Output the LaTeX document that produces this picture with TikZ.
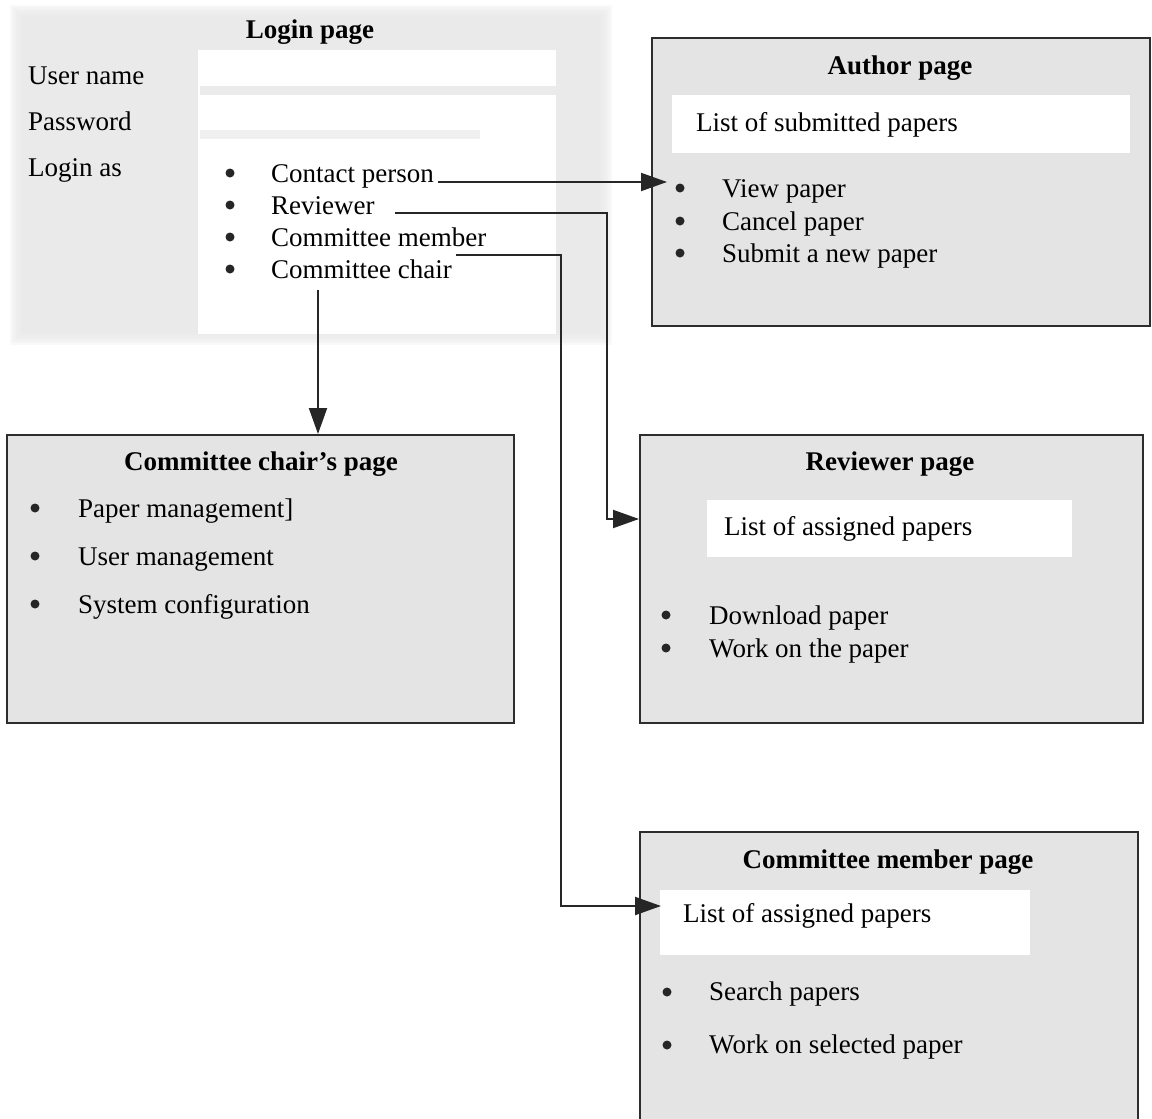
\documentclass[tikz,border=0pt]{standalone}
\usepackage{fontspec}
\setmainfont{Liberation Serif}
\usetikzlibrary{arrows.meta,calc}
\definecolor{pagefill}{RGB}{228,228,228}
\definecolor{loginfill}{RGB}{232,232,232}
\definecolor{fieldedge}{RGB}{230,230,230}
\definecolor{rulecol}{RGB}{45,45,45}
\begin{document}
\begin{tikzpicture}[x=1pt,y=-1pt,
  txt/.style={anchor=base west,inner sep=0pt,font=\fontsize{27}{32}\selectfont},
  ttl/.style={anchor=base,inner sep=0pt,font=\fontsize{27}{32}\selectfont\bfseries},
  bul/.style={circle,fill=black!85,draw=none,inner sep=0pt,minimum size=9pt},
  pagebox/.style={draw=rulecol,line width=2pt,fill=pagefill,inner sep=0pt},
  band/.style={fill=white,draw=none},
  arr/.style={draw=black!85,line width=2pt,-{Triangle[length=26pt,width=18pt]}}
]
\useasboundingbox (0,0) rectangle (1152,1119);

% ---------- login page (soft grey panel with white fields) ----------
\foreach \i in {0,...,6}
  \fill[loginfill,opacity=0.28] (10+2*\i,5+2*\i) rectangle (612-2*\i,345-2*\i);
\fill[white] (198,50) rectangle (556,334);
\fill[fieldedge,opacity=0.8] (200,86) rectangle (556,95);
\fill[fieldedge,opacity=0.6] (200,130) rectangle (480,139);

\node[ttl] (logintitle) at (310,38) {Login page};
\node[txt] (uname) at (28,84) {User name};
\node[txt] (pword) at (28,130) {Password};
\node[txt] (loginas) at (28,176) {Login as};

\node[bul] (b1) at (230,173) {};
\node[bul] (b2) at (230,205) {};
\node[bul] (b3) at (230,237) {};
\node[bul] (b4) at (230,269) {};
\node[txt] (cp) at (271,182) {Contact person};
\node[txt] (rv) at (271,214) {Reviewer};
\node[txt] (cm) at (271,246) {Committee member};
\node[txt] (cc) at (271,278) {Committee chair};

% ---------- author page ----------
\node[pagebox,minimum width=498pt,minimum height=288pt] (author) at (901,182) {};
\fill[band] (672,95) rectangle (1130,153);
\node[ttl] (authortitle) at (900,74) {Author page};
\node[txt] (authorlist) at (696,131) {List of submitted papers};
\node[bul] (ab1) at (680,188) {};
\node[bul] (ab2) at (680,221) {};
\node[bul] (ab3) at (680,253) {};
\node[txt] (a1) at (722,197) {View paper};
\node[txt] (a2) at (722,230) {Cancel paper};
\node[txt] (a3) at (722,262) {Submit a new paper};

% ---------- committee chair's page ----------
\node[pagebox,minimum width=507pt,minimum height=288pt] (chair) at (260.5,579) {};
\node[ttl] (chairtitle) at (261,470) {Committee chair’s page};
\node[bul] (cb1) at (35,508) {};
\node[bul] (cb2) at (35,556) {};
\node[bul] (cb3) at (35,604) {};
\node[txt] (c1) at (78,517) {Paper management]};
\node[txt] (c2) at (78,565) {User management};
\node[txt] (c3) at (78,613) {System configuration};

% ---------- reviewer page ----------
\node[pagebox,minimum width=503pt,minimum height=288pt] (reviewer) at (891.5,579) {};
\fill[band] (707,500) rectangle (1072,557);
\node[ttl] (reviewertitle) at (890,470) {Reviewer page};
\node[txt] (reviewerlist) at (724,535) {List of assigned papers};
\node[bul] (rb1) at (666,615) {};
\node[bul] (rb2) at (666,648) {};
\node[txt] (r1) at (709,624) {Download paper};
\node[txt] (r2) at (709,657) {Work on the paper};

% ---------- committee member page ----------
\node[pagebox,minimum width=498pt,minimum height=298pt] (member) at (889,981) {};
\fill[band] (660,890) rectangle (1030,955);
\node[ttl] (membertitle) at (888,868) {Committee member page};
\node[txt] (memberlist) at (683,922) {List of assigned papers};
\node[bul] (mb1) at (667,992) {};
\node[bul] (mb2) at (667,1045) {};
\node[txt] (m1) at (709,1000) {Search papers};
\node[txt] (m2) at (709,1053) {Work on selected paper};

% ---------- connectors ----------
\coordinate (cps) at ($(cp.base east)+(4,0)$);
\coordinate (cpt) at ($(author.west |- cps)+(16,0)$);
\draw[arr] (cps) -- (cpt);

\coordinate (rvs) at ($(rv.base east)+(20,-1)$);
\coordinate (rvt) at ($(reviewer.north west)+(0,85)$);
\draw[arr] (rvs) -- ++(212,0) |- (rvt);

\coordinate (cms) at ($(cm.base east)+(-31,9)$);
\coordinate (cmt) at ($(member.north west)+(22,75)$);
\draw[arr] (cms) -- ++(105,0) |- (cmt);

\coordinate (ccs) at ($(cc.base west)+(47,12)$);
\draw[arr] (ccs) -- (ccs |- chair.north);
\end{tikzpicture}
\end{document}
